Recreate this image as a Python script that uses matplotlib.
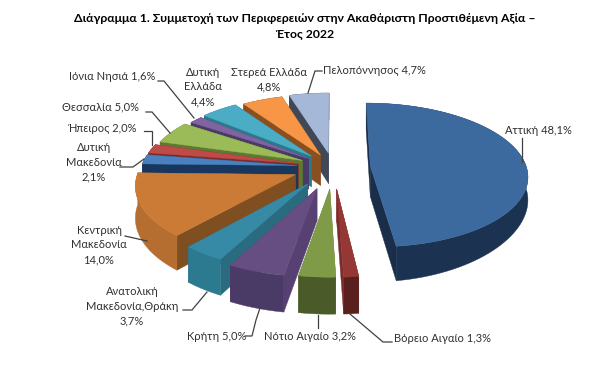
#!/usr/bin/env python3
"""3D exploded pie: regional share of gross value added, 2022"""

import numpy as np
import matplotlib
matplotlib.use('Agg')
import matplotlib.pyplot as plt
from matplotlib.patches import Polygon

plt.rcParams['font.family'] = ['Lato', 'Liberation Sans', 'DejaVu Sans']

title = 'Διάγραμμα 1. Συμμετοχή των Περιφερειών στην Ακαθάριστη Προστιθέμενη Αξία –\nΈτος 2022'

# values, clockwise from 12 o'clock
regions = ['Αττική', 'Βόρειο Αιγαίο', 'Νότιο Αιγαίο', 'Κρήτη',
           'Ανατολική\nΜακεδονία,Θράκη', 'Κεντρική\nΜακεδονία', 'Δυτική\nΜακεδονία',
           'Ήπειρος', 'Θεσσαλία', 'Ιόνια Νησιά', 'Δυτική\nΕλλάδα', 'Στερεά Ελλάδα',
           'Πελοπόννησος']
shares = [48.1, 1.3, 3.2, 5.0, 3.7, 14.0, 2.1, 2.0, 5.0, 1.6, 4.4, 4.8, 4.7]
share_labels = ['48,1%', '1,3%', '3,2%', '5,0%', '3,7%', '14,0%', '2,1%',
                '2,0%', '5,0%', '1,6%', '4,4%', '4,8%', '4,7%']

# styling per slice
explode = [0.24, 0.30, 0.30, 0.31, 0.28, 0.26, 0.23, 0.23, 0.22, 0.20, 0.21, 0.19, 0.20]
top_colors = ['#3D6A9E', '#953735', '#7F9B48', '#664D82', '#378AA6', '#CB7B35', '#4A80BD',
              '#BE4B48', '#9BBB59', '#8064A2', '#4BACC6', '#F79646', '#A6B8D8']
cut_colors = ['#1A2E4A', '#7A2C2A', '#66813A', '#574172', '#2A6B80', '#7F4F22', '#17375E',
              '#7B2C2A', '#5E7A30', '#4A3A66', '#2A7A8C', '#8A4F1E', '#404858']
side_colors = ['#1B3350', '#5A201E', '#4A5A29', '#4A3A66', '#2B7A90', '#B56E30', '#17375E',
               '#7B2C2A', '#5E7A30', '#4A3A66', '#2A7A8C', '#8A4F1E', '#404858']

# label anchors and leader lines in pixels
label_pos = [(505, 130, 'left'), (394, 338, 'left'), (264, 337, 'left'), (187, 336, 'left'),
             (132, 306, 'center'), (99, 245, 'center'), (94, 162, 'center'),
             (103, 128, 'center'), (100, 107, 'center'), (112, 77, 'center'),
             (203, 87, 'center'), (269, 80, 'center'), (323, 71, 'left')]
leaders = [[(522, 162), (522, 138)],
           [(350, 314), (383, 342), (392, 342)],
           [(318, 315), (318, 328)],
           [(260, 308), (256, 320), (252, 336), (245, 336)],
           [(207, 292), (192, 310), (183, 310)],
           [(147, 241), (125, 236)],
           [(144, 159), (133, 167), (120, 167)],
           [(152, 145), (152, 131), (144, 131)],
           [(170, 133), (152, 112), (146, 112)],
           [(194, 118), (164, 81), (158, 81)],
           [],
           [],
           [(308, 93), (315, 71), (322, 71)]]

# projection of the pie plane to pixels
cx, cy = 333, 167
rx, ry = 156, 71
persp = 0.125
height = 31
side_thin = 0.18


def project(x, y, depth=0.0):
    s = 1 / (1 + persp * y)
    thin = 1 - side_thin * np.maximum(x, 0) ** 2
    return np.column_stack([cx + rx * x * s, cy - ry * y * s + depth * s * thin])


def wall(ax, x, y, color):
    # strip between top rim and the same rim shifted down
    top = project(x, y)
    bottom = project(x, y, height)
    ax.add_patch(Polygon(np.vstack([top, bottom[::-1]]), closed=True, fc=color, ec=color, lw=0.3))


fig = plt.figure(figsize=(6, 3.73), dpi=100)
ax = fig.add_axes([0, 0, 1, 1])
ax.set_xlim(0, 600)
ax.set_ylim(373, 0)
ax.axis('off')

edges = np.cumsum([0] + shares) / np.sum(shares) * 2 * np.pi
mids = (edges[:-1] + edges[1:]) / 2

# paint from the back of the pie to the front
for i in np.argsort(-np.cos(mids)):
    ox = explode[i] * np.sin(mids[i])
    oy = explode[i] * np.cos(mids[i])
    t = np.linspace(edges[i], edges[i + 1], 80)
    rim_x = ox + np.sin(t)
    rim_y = oy + np.cos(t)

    wall(ax, np.array([ox, rim_x[0]]), np.array([oy, rim_y[0]]), cut_colors[i])
    wall(ax, np.array([ox, rim_x[-1]]), np.array([oy, rim_y[-1]]), cut_colors[i])
    wall(ax, rim_x, rim_y, side_colors[i])

    face = project(np.r_[ox, rim_x], np.r_[oy, rim_y])
    ax.add_patch(Polygon(face, closed=True, fc=top_colors[i], ec=top_colors[i], lw=0.3))

for i, region in enumerate(regions):
    if leaders[i]:
        pts = np.array(leaders[i])
        ax.plot(pts[:, 0], pts[:, 1], color='#404040', lw=0.9, solid_joinstyle='miter')
    x, y, ha = label_pos[i]
    # the single-line labels with room keep the share on the same row
    if region == 'Στερεά Ελλάδα' or '\n' in region:
        text = region + '\n' + share_labels[i]
    else:
        text = region + ' ' + share_labels[i]
    ax.text(x, y, text, ha=ha, va='center', fontsize=8.0,
            color='#303030', linespacing=1.4, multialignment='center')

ax.text(305, 26, title, ha='center', va='center', fontsize=8.8, fontweight='bold',
        color='black', linespacing=1.35)

fig.savefig('out.png', dpi=100)
